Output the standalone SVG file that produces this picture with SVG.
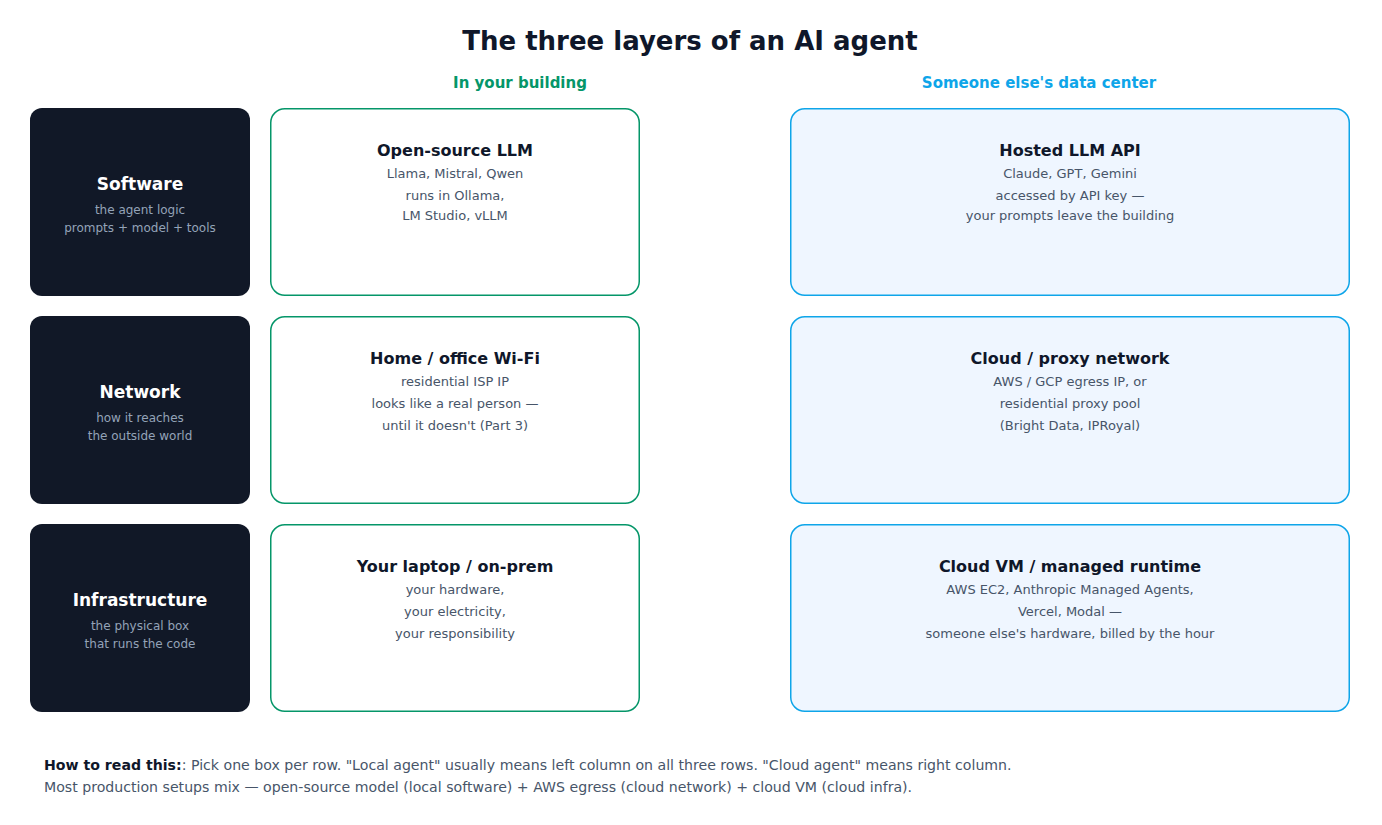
<svg xmlns="http://www.w3.org/2000/svg" width="1382" height="825" viewBox="0 0 1382 825">
<style>
text{font-family:"DejaVu Sans","Liberation Sans",sans-serif}
.title{font-size:26px;font-weight:bold;fill:#0f172a}
.colg{font-size:15px;font-weight:bold;fill:#059669}
.colb{font-size:15px;font-weight:bold;fill:#0ea5e9}
.dark{fill:#111827}
.dh{font-size:17px;font-weight:bold;fill:#ffffff}
.ds{font-size:12px;fill:#94a3b8}
.lbox{fill:#ffffff;stroke:#059669;stroke-width:1.5}
.rbox{fill:#eff6ff;stroke:#0ea5e9;stroke-width:1.5}
.bh{font-size:16px;font-weight:bold;fill:#0f172a}
.bs{font-size:13px;fill:#475569}
.ft{font-size:14.13px;fill:#475569}
.ftb{font-weight:bold;fill:#0f172a}
</style>
<rect width="1382" height="825" fill="#ffffff"/>
<text class="title" x="690" y="50" text-anchor="middle">The three layers of an AI agent</text>
<text class="colg" x="520" y="88" text-anchor="middle">In your building</text>
<text class="colb" x="1039" y="88" text-anchor="middle">Someone else's data center</text>

<g id="layer-software">
<rect class="dark" x="30" y="108" width="220" height="188" rx="12"/>
<text class="dh" x="140" y="190" text-anchor="middle">Software</text>
<text class="ds" x="140" y="214" text-anchor="middle">the agent logic</text>
<text class="ds" x="140" y="232" text-anchor="middle">prompts + model + tools</text>
</g>
<g id="layer-network">
<rect class="dark" x="30" y="316" width="220" height="188" rx="12"/>
<text class="dh" x="140" y="398" text-anchor="middle">Network</text>
<text class="ds" x="140" y="422" text-anchor="middle">how it reaches</text>
<text class="ds" x="140" y="440" text-anchor="middle">the outside world</text>
</g>
<g id="layer-infra">
<rect class="dark" x="30" y="524" width="220" height="188" rx="12"/>
<text class="dh" x="140" y="606" text-anchor="middle">Infrastructure</text>
<text class="ds" x="140" y="630" text-anchor="middle">the physical box</text>
<text class="ds" x="140" y="648" text-anchor="middle">that runs the code</text>
</g>

<g id="local-software">
<rect class="lbox" x="270.75" y="108.75" width="368.5" height="186.5" rx="14"/>
<text class="bh" x="455" y="156" text-anchor="middle">Open-source LLM</text>
<text class="bs" x="455" y="178" text-anchor="middle">Llama, Mistral, Qwen</text>
<text class="bs" x="455" y="200" text-anchor="middle">runs in Ollama,</text>
<text class="bs" x="455" y="220" text-anchor="middle">LM Studio, vLLM</text>
</g>
<g id="local-network">
<rect class="lbox" x="270.75" y="316.75" width="368.5" height="186.5" rx="14"/>
<text class="bh" x="455" y="364" text-anchor="middle">Home / office Wi-Fi</text>
<text class="bs" x="455" y="386" text-anchor="middle">residential ISP IP</text>
<text class="bs" x="455" y="408" text-anchor="middle">looks like a real person —</text>
<text class="bs" x="455" y="430" text-anchor="middle">until it doesn't (Part 3)</text>
</g>
<g id="local-infra">
<rect class="lbox" x="270.75" y="524.75" width="368.5" height="186.5" rx="14"/>
<text class="bh" x="455" y="572" text-anchor="middle">Your laptop / on-prem</text>
<text class="bs" x="455" y="594" text-anchor="middle">your hardware,</text>
<text class="bs" x="455" y="616" text-anchor="middle">your electricity,</text>
<text class="bs" x="455" y="638" text-anchor="middle">your responsibility</text>
</g>

<g id="cloud-software">
<rect class="rbox" x="790.75" y="108.75" width="558.5" height="186.5" rx="14"/>
<text class="bh" x="1070" y="156" text-anchor="middle">Hosted LLM API</text>
<text class="bs" x="1070" y="178" text-anchor="middle">Claude, GPT, Gemini</text>
<text class="bs" x="1070" y="200" text-anchor="middle">accessed by API key —</text>
<text class="bs" x="1070" y="220" text-anchor="middle">your prompts leave the building</text>
</g>
<g id="cloud-network">
<rect class="rbox" x="790.75" y="316.75" width="558.5" height="186.5" rx="14"/>
<text class="bh" x="1070" y="364" text-anchor="middle">Cloud / proxy network</text>
<text class="bs" x="1070" y="386" text-anchor="middle">AWS / GCP egress IP, or</text>
<text class="bs" x="1070" y="408" text-anchor="middle">residential proxy pool</text>
<text class="bs" x="1070" y="430" text-anchor="middle">(Bright Data, IPRoyal)</text>
</g>
<g id="cloud-infra">
<rect class="rbox" x="790.75" y="524.75" width="558.5" height="186.5" rx="14"/>
<text class="bh" x="1070" y="572" text-anchor="middle">Cloud VM / managed runtime</text>
<text class="bs" x="1070" y="594" text-anchor="middle">AWS EC2, Anthropic Managed Agents,</text>
<text class="bs" x="1070" y="616" text-anchor="middle">Vercel, Modal —</text>
<text class="bs" x="1070" y="638" text-anchor="middle">someone else's hardware, billed by the hour</text>
</g>

<g id="connectors"></g>

<g id="footer">
<text class="ft" x="44" y="770"><tspan class="ftb">How to read this:</tspan>: Pick one box per row. "Local agent" usually means left column on all three rows. "Cloud agent" means right column.</text>
<text class="ft" x="44" y="792">Most production setups mix — open-source model (local software) + AWS egress (cloud network) + cloud VM (cloud infra).</text>
</g>
</svg>
